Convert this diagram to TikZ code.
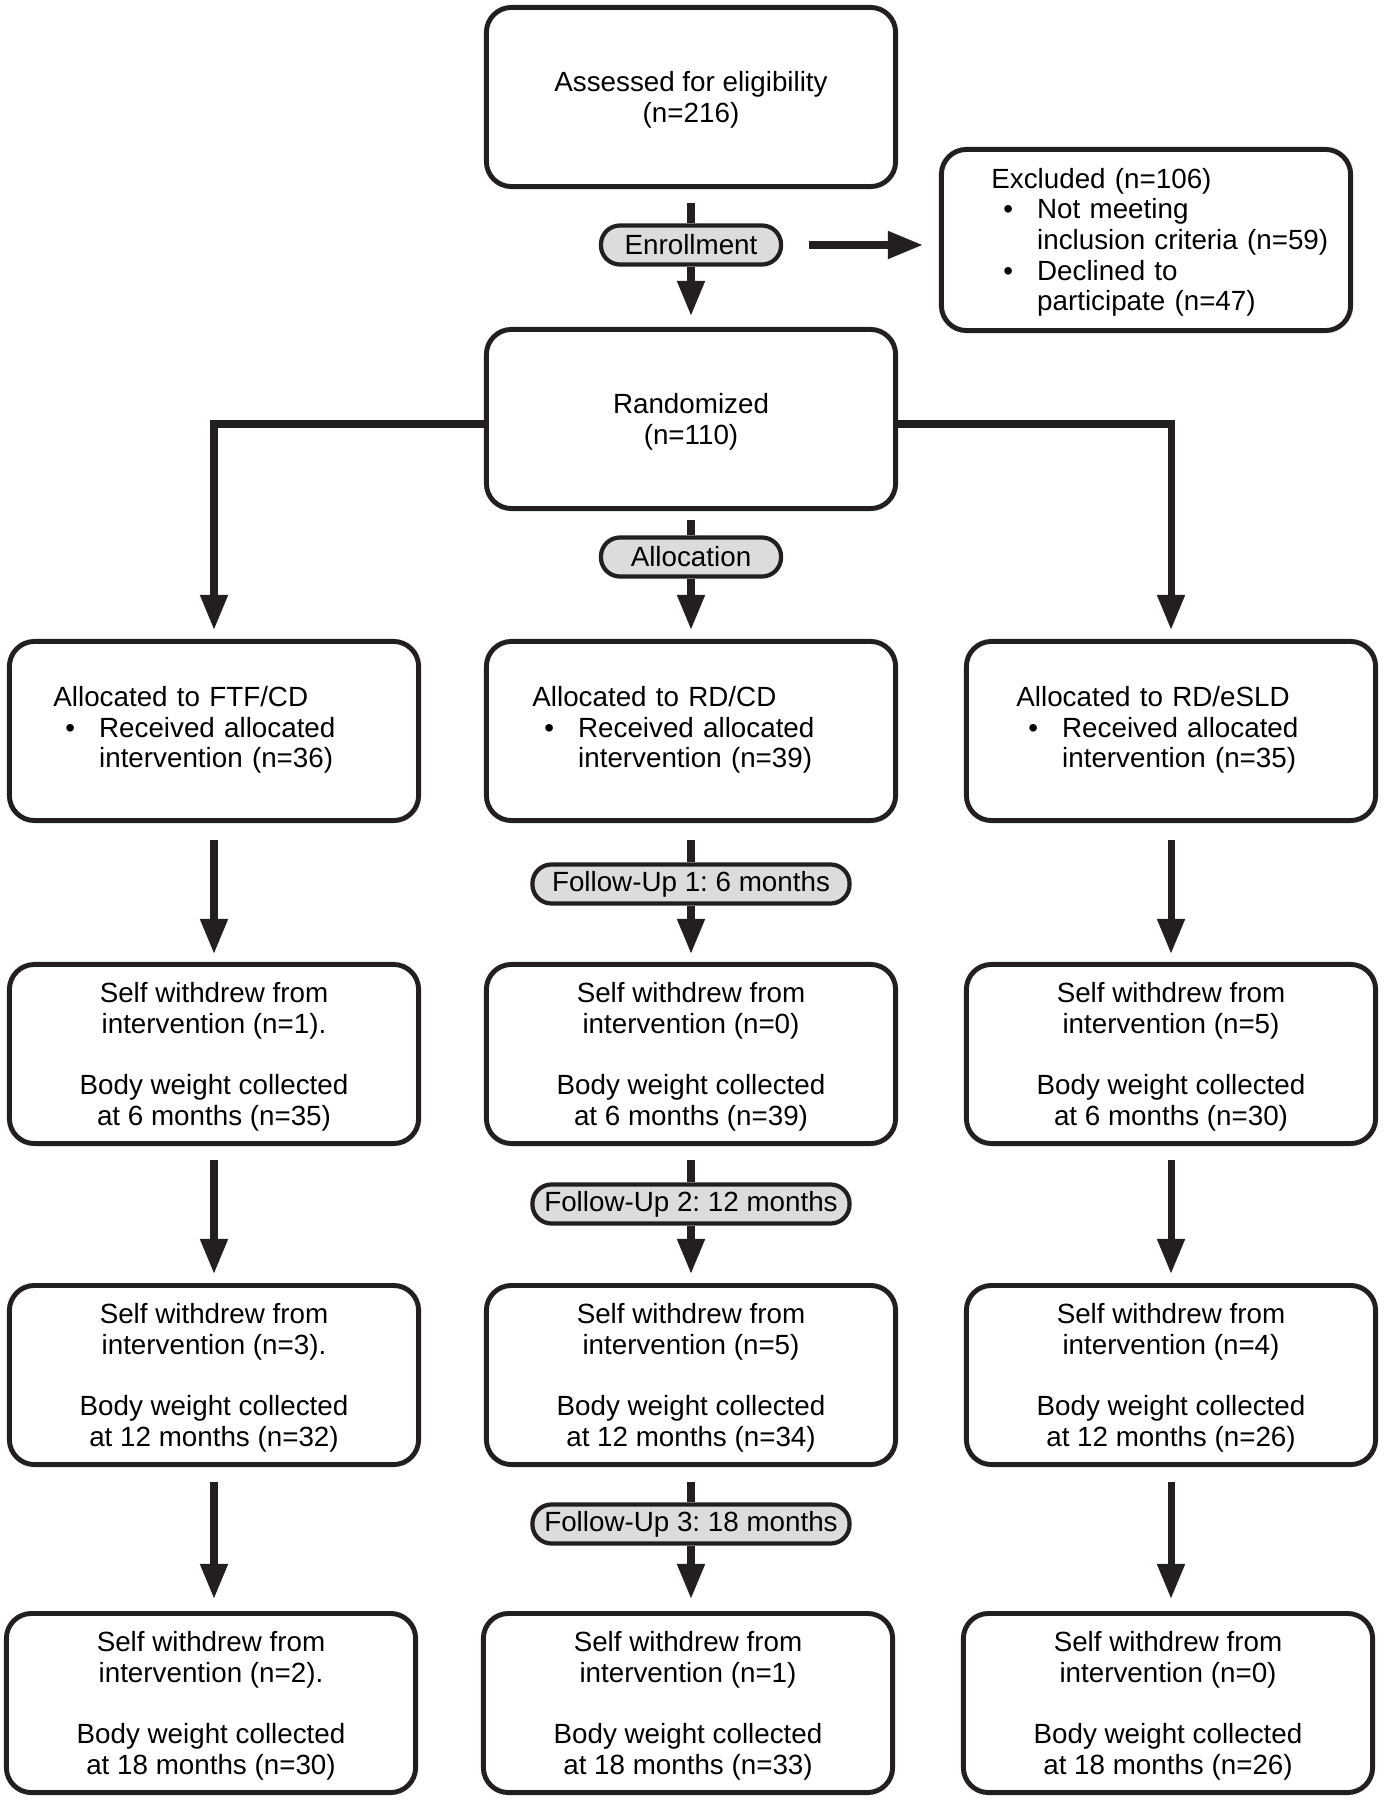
\documentclass[tikz,border=0pt]{standalone}
\usepackage{fontspec}
\setmainfont{Liberation Sans}
\usetikzlibrary{arrows.meta}
\frenchspacing

\begin{document}
\begin{tikzpicture}[x=0.01cm, y=-0.01cm,
	box/.style={draw=ink, line width=1.4pt, rounded corners=0.25cm, minimum width=4.09cm, minimum height=1.79cm, inner sep=0pt, align=center, text depth=0pt, font=\fontsize{7.9}{8.7}\selectfont},
	wdbox/.style={box, text depth=-2pt},
	listbox/.style={box, align=left, text width=4.09cm, text depth=},
	pill/.style={draw=ink, fill=pillgray, line width=1.2pt, rounded corners=0.19cm, minimum height=0.39cm, inner sep=0pt, font=\fontsize{7.9}{8.7}\selectfont},
	line/.style={draw=ink, line width=2pt},
	arr/.style={line, -{Triangle[length=10pt, width=7.5pt]}}]
	\definecolor{ink}{RGB}{35,31,32}
	\definecolor{pillgray}{RGB}{220,220,220}
	\useasboundingbox (0,0) rectangle (1385,1800);
	\node (assess) at (691,97) [box] {Assessed for eligibility\\(n=216)};
	\node (excl) at (1146,240) [listbox, minimum height=1.81cm, text depth=17.8pt] {\hspace*{0.5cm}\begin{tabular}{@{\hspace{0.12cm}}c@{\hspace{0.24cm}}l@{}}\multicolumn{2}{@{}l@{}}{Excluded (n=106)}\\ \textbullet & Not meeting\\ & inclusion criteria (n=59)\\ \textbullet & Declined to\\ & participate (n=47)\end{tabular}};
	\node (rand) at (691,419) [box] {Randomized\\(n=110)};
	\node (enroll) at (691,245) [pill, minimum width=1.8cm] {Enrollment};
	\node (alloc) at (691,557) [pill, minimum width=1.8cm] {Allocation};
	\node (fu1) at (691,884) [pill, minimum width=3.17cm] {Follow-Up 1: 6 months};
	\node (fu2) at (691,1204) [pill, minimum width=3.17cm] {Follow-Up 2: 12 months};
	\node (fu3) at (691,1524) [pill, minimum width=3.17cm] {Follow-Up 3: 18 months};
	\node (ftfalloc) at (214,731) [listbox] {\hspace*{0.44cm}\begin{tabular}{@{\hspace{0.12cm}}c@{\hspace{0.24cm}}l@{}}\multicolumn{2}{@{}l@{}}{Allocated to FTF/CD}\\ \textbullet & Received allocated\\ & intervention (n=36)\end{tabular}};
	\node (rdcdalloc) at (691,731) [listbox] {\hspace*{0.46cm}\begin{tabular}{@{\hspace{0.12cm}}c@{\hspace{0.24cm}}l@{}}\multicolumn{2}{@{}l@{}}{Allocated to RD/CD}\\ \textbullet & Received allocated\\ & intervention (n=39)\end{tabular}};
	\node (esldalloc) at (1171,731) [listbox] {\hspace*{0.5cm}\begin{tabular}{@{\hspace{0.12cm}}c@{\hspace{0.24cm}}l@{}}\multicolumn{2}{@{}l@{}}{Allocated to RD/eSLD}\\ \textbullet & Received allocated\\ & intervention (n=35)\end{tabular}};
	\node (ftf6) at (214,1054) [wdbox, text depth=-4pt] {Self withdrew from\\intervention (n=1).\\[8.7pt]Body weight collected\\at 6 months (n=35)};
	\node (rdcd6) at (691,1054) [wdbox, text depth=-4pt] {Self withdrew from\\intervention (n=0)\\[8.7pt]Body weight collected\\at 6 months (n=39)};
	\node (esld6) at (1171,1054) [wdbox, text depth=-4pt] {Self withdrew from\\intervention (n=5)\\[8.7pt]Body weight collected\\at 6 months (n=30)};
	\node (ftf12) at (214,1375) [wdbox] {Self withdrew from\\intervention (n=3).\\[8.7pt]Body weight collected\\at 12 months (n=32)};
	\node (rdcd12) at (691,1375) [wdbox] {Self withdrew from\\intervention (n=5)\\[8.7pt]Body weight collected\\at 12 months (n=34)};
	\node (esld12) at (1171,1375) [wdbox] {Self withdrew from\\intervention (n=4)\\[8.7pt]Body weight collected\\at 12 months (n=26)};
	\node (ftf18) at (211,1703) [wdbox] {Self withdrew from\\intervention (n=2).\\[8.7pt]Body weight collected\\at 18 months (n=30)};
	\node (rdcd18) at (688,1703) [wdbox] {Self withdrew from\\intervention (n=1)\\[8.7pt]Body weight collected\\at 18 months (n=33)};
	\node (esld18) at (1168,1703) [wdbox] {Self withdrew from\\intervention (n=0)\\[8.7pt]Body weight collected\\at 18 months (n=26)};
	\coordinate (exclin) at (excl.west |- enroll.east);
	\draw[line] ([yshift=-0.14cm]assess.south) -- (enroll);
	\draw[arr] (enroll) -- ([yshift=0.11cm]rand.north);
	\draw[arr] ([xshift=0.26cm]enroll.east) -- ([xshift=-0.16cm]exclin);
	\draw[line] ([yshift=-0.09cm]rand.south) -- (alloc);
	\draw[arr] (alloc) -- ([yshift=0.09cm]rdcdalloc.north);
	\draw[arr] ([yshift=-0.05cm]rand.west) -| ([yshift=0.09cm]ftfalloc.north);
	\draw[arr] ([yshift=-0.05cm]rand.east) -| ([yshift=0.09cm]esldalloc.north);
	\draw[arr] ([yshift=-0.17cm]ftfalloc.south) -- ([yshift=0.08cm]ftf6.north);
	\draw[line] ([yshift=-0.17cm]rdcdalloc.south) -- (fu1);
	\draw[arr] (fu1) -- ([yshift=0.08cm]rdcd6.north);
	\draw[arr] ([yshift=-0.17cm]esldalloc.south) -- ([yshift=0.08cm]esld6.north);
	\draw[arr] ([yshift=-0.14cm]ftf6.south) -- ([yshift=0.09cm]ftf12.north);
	\draw[line] ([yshift=-0.14cm]rdcd6.south) -- (fu2);
	\draw[arr] (fu2) -- ([yshift=0.09cm]rdcd12.north);
	\draw[arr] ([yshift=-0.14cm]esld6.south) -- ([yshift=0.09cm]esld12.north);
	\draw[arr] ([yshift=-0.15cm]ftf12.south) -- ([yshift=0.12cm]ftf12.south |- ftf18.north);
	\draw[line] ([yshift=-0.15cm]rdcd12.south) -- (fu3);
	\draw[arr] (fu3) -- ([yshift=0.12cm]fu3.south |- rdcd18.north);
	\draw[arr] ([yshift=-0.15cm]esld12.south) -- ([yshift=0.12cm]esld12.south |- esld18.north);
\end{tikzpicture}
\end{document}
